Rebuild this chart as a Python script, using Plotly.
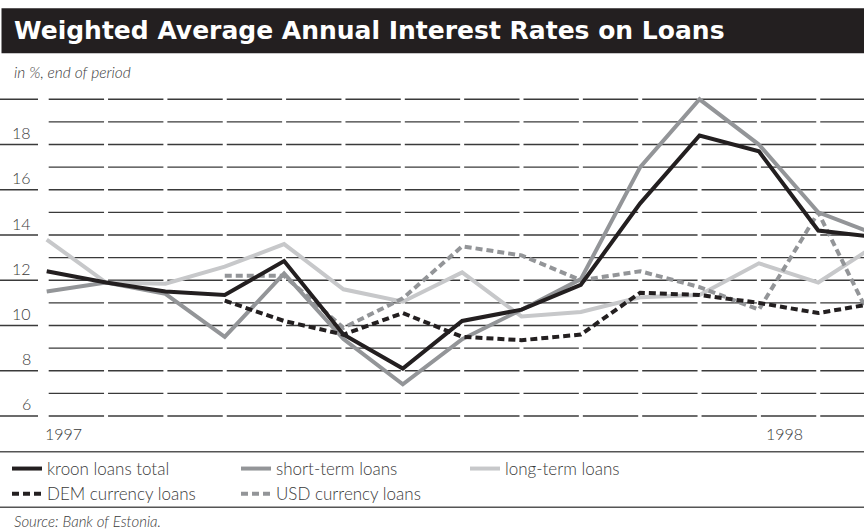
import plotly.graph_objects as go

# ---------------- data ----------------
months = ["Jan 97", "Feb 97", "Mar 97", "Apr 97", "May 97", "Jun 97", "Jul 97", "Aug 97",
          "Sep 97", "Oct 97", "Nov 97", "Dec 97", "Jan 98", "Feb 98", "Mar 98"]
kroon_total = [12.4, 11.9, 11.5, 11.35, 12.85, 9.6, 8.1, 10.2, 10.7, 11.8, 15.4, 18.4, 17.7, 14.2, 13.9]
short_term = [11.5, 11.9, 11.4, 9.5, 12.3, 9.4, 7.4, 9.4, 10.7, 12.05, 17.0, 20.0, 18.0, 15.0, 14.0]
long_term = [13.8, 11.9, 11.85, 12.6, 13.6, 11.6, 11.05, 12.35, 10.4, 10.6, 11.25, 11.35, 12.75, 11.9, 13.6]
dem_loans = [None, None, None, 11.1, 10.2, 9.6, 10.55, 9.5, 9.35, 9.6, 11.45, 11.35, 11.0, 10.55, 11.0]
usd_loans = [None, None, None, 12.2, 12.2, 9.9, 11.2, 13.5, 13.1, 12.0, 12.4, 11.7, 10.7, 15.0, 9.7]
y_ticks = [6, 8, 10, 12, 14, 16, 18]
year_labels = ["1997", "1998"]
year_pos = [0, 12]

# ---------------- geometry helpers ----------------
W, H = 864, 532
PX_PER_MONTH = 59.35
X0_PX = 46.7
x_min = -X0_PX / PX_PER_MONTH
x_max = (W - X0_PX) / PX_PER_MONTH


def py(px):
    """pixel row -> paper y"""
    return 1 - px / H


x_idx = list(range(len(months)))

DARK = "#231f20"
MID = "#939598"
LIGHT = "#c7c8ca"
TXT = "#3a3a3a"
FONT = "Lato"

fig = go.Figure()

series = [
    ("kroon loans total", kroon_total, DARK, "solid"),
    ("short-term loans", short_term, MID, "solid"),
    ("long-term loans", long_term, LIGHT, "solid"),
    ("DEM currency loans", dem_loans, DARK, "7px,4px"),
    ("USD currency loans", usd_loans, MID, "7px,4px"),
]
draw_order = [2, 4, 1, 3, 0]
traces = {}
for k, (name, vals, col, dash) in enumerate(series):
    traces[k] = go.Scatter(
        x=x_idx, y=vals, name=name, mode="lines",
        line=dict(color=col, width=4, dash=dash),
        legendrank=k + 1, connectgaps=False, hoverinfo="skip",
    )
for k in draw_order:
    fig.add_trace(traces[k])

# ---------------- gridlines (dashed segments broken at each month) ----------------
shapes = []
g = 2.0 / PX_PER_MONTH
for v in range(6, 21):
    for i in range(len(months) - 1):
        shapes.append(dict(type="line", xref="x", yref="y", x0=i + g, x1=i + 1 - g, y0=v, y1=v,
                           line=dict(color="#3a3a3a", width=1.4), layer="below"))
    if v % 2 == 0:
        shapes.append(dict(type="line", xref="x", yref="y", x0=x_min, x1=(38 - X0_PX) / PX_PER_MONTH,
                           y0=v, y1=v, line=dict(color="#3a3a3a", width=1.4), layer="below"))

# title bar
shapes.append(dict(type="rect", xref="paper", yref="paper", x0=1.5 / W, x1=1, y0=py(53.3), y1=py(8.3),
                   fillcolor=DARK, line=dict(width=0), layer="below"))
# legend separators
for yy in (451.7, 507.3):
    shapes.append(dict(type="line", xref="paper", yref="paper", x0=0, x1=1, y0=py(yy), y1=py(yy),
                       line=dict(color="#555555", width=1.5)))

annotations = [
    dict(text="Weighted Average Annual Interest Rates on Loans", xref="paper", yref="paper",
         x=12 / W, y=py(30.5), xanchor="left", yanchor="middle", showarrow=False,
         font=dict(family="DejaVu Sans", size=25, color="white", weight="bold")),
    dict(text="<i>in %, end of period</i>", xref="paper", yref="paper",
         x=12 / W, y=py(72.5), xanchor="left", yanchor="middle", showarrow=False,
         font=dict(family=FONT, size=15.5, color=TXT, weight=300)),
    dict(text="<i>Source: Bank of Estonia.</i>", xref="paper", yref="paper",
         x=12 / W, y=py(521), xanchor="left", yanchor="middle", showarrow=False,
         font=dict(family=FONT, size=15, color=TXT, weight=300)),
]
for t in y_ticks:
    annotations.append(dict(text=str(t), xref="paper", yref="y", x=33 / W, y=t, xanchor="right",
                            yanchor="middle", yshift=12, showarrow=False,
                            font=dict(family=FONT, size=16, color=TXT, weight=300)))
for lab, pos, sh in zip(year_labels, year_pos, [-4, 5]):
    annotations.append(dict(text=lab, xref="x", yref="paper", x=pos, y=py(433), xanchor="left",
                            yanchor="middle", xshift=sh, showarrow=False,
                            font=dict(family=FONT, size=16, color=TXT, weight=300)))

# y range [5,21] mapped so that 6 -> 416px and 20 -> 99px
UNIT = (416 - 99.3) / 14
top_px = 416 - (21 - 6) * UNIT
bot_px = 416 + 1 * UNIT

fig.update_layout(
    width=W, height=H,
    margin=dict(l=0, r=0, t=0, b=0),
    paper_bgcolor="white", plot_bgcolor="white",
    hovermode=False,
    xaxis=dict(range=[x_min, x_max], domain=[0, 1], showgrid=False, zeroline=False,
               showticklabels=False, showline=False, ticks="", fixedrange=True),
    yaxis=dict(range=[5, 21], domain=[py(bot_px), py(top_px)], showgrid=False, zeroline=False,
               showticklabels=False, showline=False, ticks="", fixedrange=True),
    shapes=shapes,
    annotations=annotations,
    showlegend=True,
    legend=dict(orientation="h", x=7 / W, xanchor="left", y=py(451), yanchor="top",
                font=dict(family=FONT, size=17, color=TXT, weight=300), bgcolor="rgba(0,0,0,0)",
                entrywidth=184, entrywidthmode="pixels", itemwidth=30,
                traceorder="normal", tracegroupgap=0),
)

fig.write_html("out.html", config={"displayModeBar": False},
               post_script="document.body.style.margin='0';document.body.style.overflow='hidden';")
